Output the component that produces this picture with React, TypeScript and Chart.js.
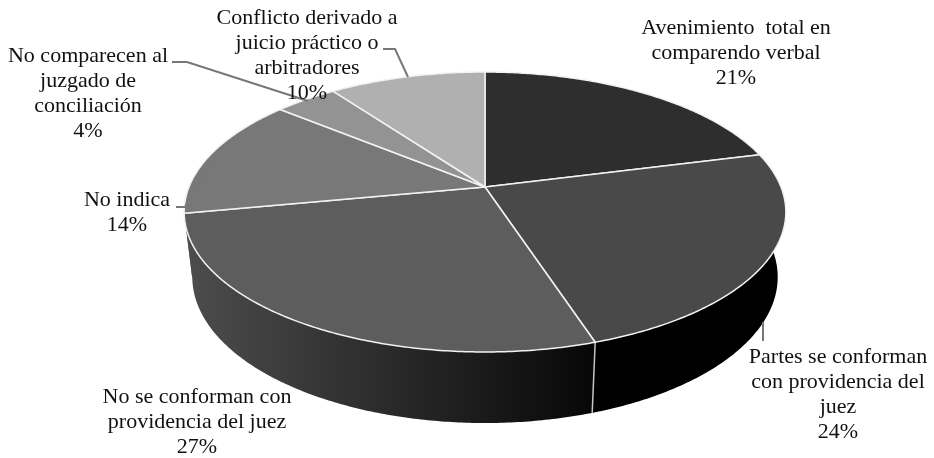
import React, { useEffect, useRef } from "react";
import { Chart, registerables } from "chart.js";

Chart.register(...registerables);

// Shares of each outcome, clockwise from twelve o'clock.
const categories = [
  "Avenimiento total en comparendo verbal",
  "Partes se conforman con providencia del juez",
  "No se conforman con providencia del juez",
  "No indica",
  "No comparecen al juzgado de conciliación",
  "Conflicto derivado a juicio práctico o arbitradores",
];
const shares = [21, 24, 27, 14, 4, 10];
const labelLines = [
  ["Avenimiento  total en", "comparendo verbal"],
  ["Partes se conforman", "con providencia del", "juez"],
  ["No se conforman con", "providencia del juez"],
  ["No indica"],
  ["No comparecen al", "juzgado de", "conciliación"],
  ["Conflicto derivado a", "juicio práctico o", "arbitradores"],
];

// Styling
const faceColors = ["#2e2e2e", "#494949", "#5d5d5d", "#787878", "#939393", "#b0b0b0"];
const wallStops = [
  ["#1c1c1c", "#1c1c1c"],
  ["#000000", "#000000"],
  ["#4c4c4c", "#070707"],
  ["#3a3a3a", "#3a3a3a"],
  ["#4a4a4a", "#4a4a4a"],
  ["#585858", "#585858"],
];

// Label placement: centre x and first baseline, with a fixed line step.
const labelAnchors = [
  { x: 736, y: 34 },
  { x: 838, y: 363 },
  { x: 197, y: 403 },
  { x: 127, y: 206 },
  { x: 88, y: 62 },
  { x: 307, y: 24 },
];
const leaderLines = [
  [],
  [[763, 322], [763, 341]],
  [],
  [[176, 207], [185, 207], [213, 157]],
  [[172, 62], [187, 62], [308, 101]],
  [[383, 49], [395, 49], [408, 77]],
];

// Perspective projection of the two disc planes.
type Plane = { cx: number; cy: number; a: number; b: number; k: number };
const topPlane: Plane = { cx: 485, cy: 187, a: 296, b: 135.5, k: -0.1786 };
const basePlane: Plane = { cx: 485, cy: 251, a: 288, b: 141.3, k: -0.1786 };

function project(p: Plane, angle: number): [number, number] {
  const u = Math.cos(angle);
  const v = Math.sin(angle);
  const d = 1 + p.k * v;
  return [p.cx + (p.a * u) / d, p.cy + (p.b * v) / d];
}

function sampleArc(p: Plane, start: number, end: number): [number, number][] {
  const steps = Math.max(4, Math.ceil((end - start) / 0.01));
  const pts: [number, number][] = [];
  for (let i = 0; i <= steps; i++) pts.push(project(p, start + ((end - start) * i) / steps));
  return pts;
}

// Replaces the flat arcs with a tilted, extruded disc built from the arc angles Chart.js computed.
const tiltedPie = {
  id: "tiltedPie",
  beforeDatasetsDraw(chart: any) {
    const ctx: CanvasRenderingContext2D = chart.ctx;
    const arcs = chart.getDatasetMeta(0).data as any[];
    const order = arcs
      .map((_, i) => i)
      .sort(
        (i, j) =>
          Math.sin((arcs[i].startAngle + arcs[i].endAngle) / 2) -
          Math.sin((arcs[j].startAngle + arcs[j].endAngle) / 2)
      );

    ctx.save();
    ctx.lineJoin = "round";

    for (const i of order) {
      const { startAngle, endAngle } = arcs[i];
      const upper = sampleArc(topPlane, startAngle, endAngle);
      const lower = sampleArc(basePlane, startAngle, endAngle).reverse();
      const g = ctx.createLinearGradient(190, 0, 595, 0);
      g.addColorStop(0, wallStops[i][0]);
      g.addColorStop(1, wallStops[i][1]);
      ctx.fillStyle = g;
      ctx.beginPath();
      [...upper, ...lower].forEach(([x, y], n) => (n ? ctx.lineTo(x, y) : ctx.moveTo(x, y)));
      ctx.closePath();
      ctx.fill();
    }

    // Seam between neighbouring walls
    ctx.strokeStyle = "#c4c4c4";
    ctx.lineWidth = 1.5;
    const seam = arcs[1].endAngle;
    const [sx0, sy0] = project(topPlane, seam);
    const [sx1, sy1] = project(basePlane, seam);
    ctx.beginPath();
    ctx.moveTo(sx0, sy0);
    ctx.lineTo(sx1, sy1);
    ctx.stroke();

    arcs.forEach((arc) => {
      const pts = sampleArc(topPlane, arc.startAngle, arc.endAngle);
      ctx.beginPath();
      ctx.moveTo(topPlane.cx, topPlane.cy);
      pts.forEach(([x, y]) => ctx.lineTo(x, y));
      ctx.closePath();
      ctx.fillStyle = arc.options.backgroundColor;
      ctx.fill();
      ctx.strokeStyle = "#f2f2f2";
      ctx.lineWidth = 1.5;
      ctx.stroke();
    });
    ctx.restore();
    return false;
  },
  // Runs after the cancelled dataset pass, so labels sit on top of the disc.
  afterDraw(chart: any) {
    const ctx: CanvasRenderingContext2D = chart.ctx;
    ctx.save();
    ctx.strokeStyle = "#777777";
    ctx.lineWidth = 2;
    leaderLines.forEach((line) => {
      if (!line.length) return;
      ctx.beginPath();
      line.forEach(([x, y], n) => (n ? ctx.lineTo(x, y) : ctx.moveTo(x, y)));
      ctx.stroke();
    });

    ctx.fillStyle = "#111111";
    ctx.font = '22px "Liberation Serif"';
    ctx.textAlign = "center";
    ctx.textBaseline = "alphabetic";
    labelLines.forEach((lines, i) => {
      const rows = [...lines, `${shares[i]}%`];
      rows.forEach((text, r) => {
        ctx.fillText(text, labelAnchors[i].x, labelAnchors[i].y + r * 25);
      });
    });
    ctx.restore();
  },
};

export default function App() {
  const ref = useRef<HTMLCanvasElement>(null);
  useEffect(() => {
    const chart = new Chart(ref.current!, {
      type: "pie",
      data: {
        labels: categories,
        datasets: [{ data: shares, backgroundColor: faceColors, borderWidth: 0 }],
      },
      options: {
        animation: false,
        responsive: false,
        plugins: { legend: { display: false }, tooltip: { enabled: false } },
      },
      plugins: [tiltedPie],
    });
    return () => chart.destroy();
  }, []);
  return (
    <div style={{ position: "absolute", left: 0, top: 0, width: 934, height: 458, background: "#fff" }}>
      <canvas ref={ref} width={934} height={458} style={{ display: "block" }} />
    </div>
  );
}
